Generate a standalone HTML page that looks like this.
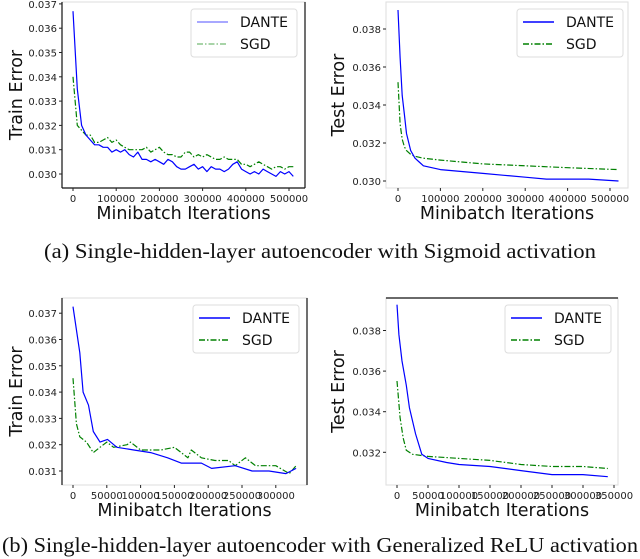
<!DOCTYPE html>
<html><head><meta charset="utf-8"><style>
body{margin:0;background:#fff;width:640px;height:559px;overflow:hidden}
svg{display:block}
.tk{font-family:"DejaVu Sans","Liberation Sans",sans-serif;font-size:10px;fill:#222}
.al{font-family:"DejaVu Sans","Liberation Sans",sans-serif;font-size:17.5px;fill:#111}
.lg{font-family:"DejaVu Sans","Liberation Sans",sans-serif;font-size:14px;fill:#111}
.cap{font-family:"Liberation Serif",serif;font-size:21px;fill:#111}
</style></head><body>
<svg id="fig" width="640" height="559" viewBox="0 0 640 559" xmlns="http://www.w3.org/2000/svg">
<text class="cap" x="320" y="258" text-anchor="middle" textLength="552" lengthAdjust="spacingAndGlyphs">(a) Single-hidden-layer autoencoder with Sigmoid activation</text>
<text class="cap" x="320" y="552" text-anchor="middle" textLength="636" lengthAdjust="spacingAndGlyphs">(b) Single-hidden-layer autoencoder with Generalized ReLU activation</text>
</svg>
<script>
// Panel A1: train, sigmoid
const a1X=[0,10000,20000,30000,40000,50000,60000,70000,80000,90000,100000,110000,120000,130000,140000,150000,160000,170000,180000,190000,200000,210000,220000,230000,240000,250000,260000,270000,280000,290000,300000,310000,320000,330000,340000,350000,360000,370000,380000,390000,400000,410000,420000,430000,440000,450000,460000,470000,480000,490000,500000,510000];
const a1Dante=[0.0367,0.0335,0.0320,0.0316,0.0314,0.0312,0.0312,0.0311,0.0311,0.0309,0.0310,0.0309,0.0310,0.0308,0.0307,0.0309,0.0306,0.0306,0.0305,0.0306,0.0305,0.0304,0.0306,0.0305,0.0303,0.0302,0.0302,0.0303,0.0304,0.0302,0.0303,0.0301,0.0303,0.0302,0.0302,0.0301,0.0302,0.0304,0.0305,0.0302,0.0301,0.0300,0.0301,0.0300,0.0302,0.0301,0.0300,0.0299,0.0301,0.0300,0.0301,0.0299];
const a1Sgd=[0.0340,0.0320,0.0318,0.0316,0.0316,0.0313,0.0313,0.0314,0.0315,0.0313,0.0314,0.0312,0.0311,0.0310,0.0310,0.0310,0.0310,0.0311,0.0309,0.0310,0.0311,0.0309,0.0308,0.0308,0.0307,0.0307,0.0309,0.0309,0.0307,0.0308,0.0307,0.0308,0.0307,0.0306,0.0306,0.0307,0.0306,0.0306,0.0306,0.0304,0.0304,0.0303,0.0304,0.0305,0.0304,0.0303,0.0302,0.0303,0.0303,0.0302,0.0303,0.0303];
const a1YTicks=[0.030,0.031,0.032,0.033,0.034,0.035,0.036,0.037];
const a1XTicks=[0,100000,200000,300000,400000,500000];
// Panel A2: test, sigmoid
const a2DX=[0,5000,10000,15000,20000,30000,40000,50000,60000,80000,100000,150000,200000,250000,300000,350000,400000,450000,520000];
const a2Dante=[0.0390,0.0365,0.0345,0.0335,0.0325,0.0316,0.0312,0.0310,0.0308,0.0307,0.0306,0.0305,0.0304,0.0303,0.0302,0.0301,0.0301,0.0301,0.0300];
const a2SX=[0,5000,10000,15000,20000,30000,40000,60000,100000,150000,200000,300000,400000,520000];
const a2Sgd=[0.0352,0.0330,0.0322,0.0318,0.0316,0.0314,0.0313,0.0312,0.0311,0.0310,0.0309,0.0308,0.0307,0.0306];
const a2YTicks=[0.030,0.032,0.034,0.036,0.038];
const a2XTicks=[0,100000,200000,300000,400000,500000];
// Panel B1: train, ReLU
const b1DX=[0,10000,15000,23000,30000,40000,51000,65000,90000,115000,140000,160000,190000,205000,240000,265000,290000,315000,330000];
const b1Dante=[0.03725,0.0355,0.0340,0.0335,0.0325,0.0321,0.0322,0.0319,0.0318,0.0317,0.0315,0.0313,0.0313,0.0311,0.0312,0.0310,0.0310,0.0309,0.0311];
const b1SX=[0,5000,10000,20000,30000,40000,50000,60000,80000,85000,100000,130000,150000,170000,175000,190000,210000,230000,240000,255000,270000,300000,320000,330000];
const b1Sgd=[0.03453,0.0328,0.0323,0.0321,0.0317,0.0319,0.0321,0.0319,0.0320,0.0321,0.0318,0.0318,0.0319,0.0315,0.0318,0.0315,0.0314,0.0314,0.0312,0.0315,0.0312,0.0312,0.0309,0.0312];
const b1YTicks=[0.031,0.032,0.033,0.034,0.035,0.036,0.037];
const b1XTicks=[0,50000,100000,150000,200000,250000,300000];
// Panel B2: test, ReLU
const b2DX=[0,3000,8000,15000,20000,30000,40000,50000,80000,100000,150000,200000,250000,300000,340000];
const b2Dante=[0.03927,0.0378,0.0365,0.0353,0.0342,0.0329,0.0319,0.0317,0.0315,0.0314,0.0313,0.0311,0.0309,0.0309,0.0308];
const b2SX=[0,5000,10000,15000,25000,50000,100000,150000,200000,250000,300000,340000];
const b2Sgd=[0.03551,0.0337,0.0327,0.0321,0.0319,0.0318,0.0317,0.0316,0.0314,0.0313,0.0313,0.0312];
const b2YTicks=[0.032,0.034,0.036,0.038];
const b2XTicks=[0,50000,100000,150000,200000,250000,300000,350000];

const NS='http://www.w3.org/2000/svg';
const svg=document.getElementById('fig');
function mk(tag,attrs,parent){const e=document.createElementNS(NS,tag);for(const k in attrs)e.setAttribute(k,attrs[k]);(parent||svg).appendChild(e);return e;}

function panel(p){
  const g=mk('g',{});
  
  
  const sx=v=>p.x0+(v-p.xv0)*p.xs;
  const sy=v=>p.y0-(v-p.yv0)*p.ys;
  const fr=mk('rect',{x:p.L,y:p.T,width:p.R-p.L,height:p.B-p.T,fill:'none',stroke:'#ddd','stroke-width':1},g);
  
  
  for(const s of p.dark){
    const c={l:[p.L,p.T,p.L,p.B],r:[p.R,p.T,p.R,p.B],t:[p.L,p.T,p.R,p.T],b:[p.L,p.B,p.R,p.B]}[s];
    const ln=mk('line',{x1:c[0],y1:c[1],x2:c[2],y2:c[3],stroke:'#111','stroke-width':1.2},g);
    
    
  }
  for(const t of p.yt){
    const y=sy(t);
    const tl=mk('line',{x1:p.L-3,y1:y,x2:p.L,y2:y,stroke:'#222','stroke-width':1},g);
    
    
    const tx=mk('text',{x:p.L-5,y:y+4,'text-anchor':'end',class:'tk','font-size':'11px'},g);
    tx.textContent=t.toFixed(3);
    
    
  }
  for(const t of p.xt){
    const x=sx(t);
    const tl=mk('line',{x1:x,y1:p.B,x2:x,y2:p.B+3,stroke:'#222','stroke-width':1},g);
    
    
    const tx=mk('text',{x:x,y:p.B+14,'text-anchor':'middle',class:'tk'},g);
    tx.textContent=String(t);
    
    
  }
  const ser=[[p.sX,p.sV,'#008000','6,2,1.5,2','sgd-line'],[p.dX,p.dV,'#0000ff','','dante-line']];
  for(const s of ser){
    const d=s[0].map((xv,i)=>(i?'L':'M')+sx(xv).toFixed(1)+' '+sy(s[1][i]).toFixed(1)).join(' ');
    const pa=mk('path',{d:d,fill:'none',stroke:s[2],'stroke-width':1.2,'stroke-dasharray':s[3]||'none','stroke-linejoin':'round'},g);
    
    
  }
  const lg=mk('g',{},g);
  
  
  mk('rect',{x:p.lx,y:p.ly,width:106,height:48,rx:3,fill:'#fff',stroke:'#ddd','stroke-width':1},lg);
  const ent=[['DANTE','#0000ff',''],['SGD','#008000','6,2,1.5,2']];
  ent.forEach((e,i)=>{
    const y=p.ly+13+i*22;
    const l=mk('line',{x1:p.lx+6,y1:y,x2:p.lx+37,y2:y,stroke:e[1],'stroke-width':1.5,'stroke-dasharray':e[2]||'none',opacity:p.lgOp},lg);
    
    
    const t=mk('text',{x:p.lx+49,y:y+5,class:'lg'},lg);
    t.textContent=e[0];
    
    
  });
  const xl=mk('text',{x:(p.L+p.R)/2,y:p.B+31,'text-anchor':'middle',class:'al'},g);
  xl.textContent='Minibatch Iterations';
  
  
  const yc=(p.T+p.B)/2;
  const yl=mk('text',{x:p.ylx,y:yc,'text-anchor':'middle',class:'al',transform:'rotate(-90 '+p.ylx+' '+yc+')'},g);
  yl.textContent=p.ytitle;
  
  
}
panel({name:'train-sigmoid-panel',L:62,R:305,T:2,B:188,x0:73,xv0:0,xs:216/500000,y0:174,yv0:0.030,ys:24300,
  yt:a1YTicks,xt:a1XTicks,dX:a1X,dV:a1Dante,sX:a1X,sV:a1Sgd,lgOp:0.45,dark:['l','r','b'],lx:191,ly:9,ytitle:'Train Error',ylx:22});
panel({name:'test-sigmoid-panel',L:386,R:628,T:2,B:188,x0:398,xv0:0,xs:212/500000,y0:181,yv0:0.030,ys:19000,
  yt:a2YTicks,xt:a2XTicks,dX:a2DX,dV:a2Dante,sX:a2SX,sV:a2Sgd,lgOp:1,dark:[],lx:517,ly:9,ytitle:'Test Error',ylx:344});
panel({name:'train-relu-panel',L:62,R:307,T:298,B:485,x0:73,xv0:0,xs:33.8/50000,y0:471,yv0:0.031,ys:26300,
  yt:b1YTicks,xt:b1XTicks,dX:b1DX,dV:b1Dante,sX:b1SX,sV:b1Sgd,lgOp:1,dark:['l','r'],lx:193,ly:305,ytitle:'Train Error',ylx:22});
panel({name:'test-relu-panel',L:386,R:618,T:298,B:485,x0:397,xv0:0,xs:31/50000,y0:452.3,yv0:0.032,ys:20300,
  yt:b2YTicks,xt:b2XTicks,dX:b2DX,dV:b2Dante,sX:b2SX,sV:b2Sgd,lgOp:1,dark:['t'],lx:505,ly:305,ytitle:'Test Error',ylx:344});
</script>
</body></html>
